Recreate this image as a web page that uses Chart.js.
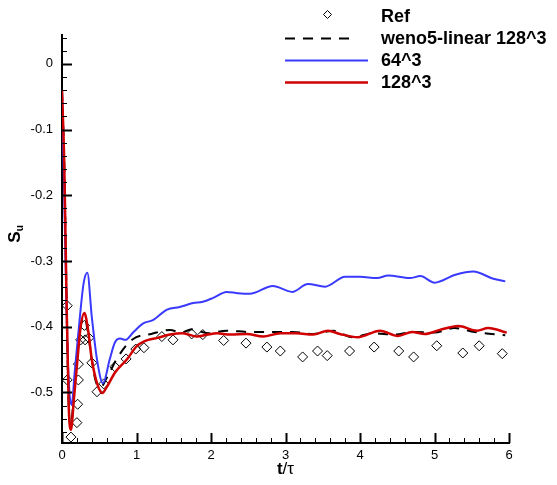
<!DOCTYPE html>
<html>
<head>
<meta charset="utf-8">
<script src="https://cdn.jsdelivr.net/npm/chart.js@4"></script>
<style>
  html, body { margin: 0; padding: 0; background: #fff; }
  canvas { display: block; }
</style>
</head>
<body>
<canvas id="su-chart" width="557" height="485"></canvas>
<script>
// reference data (diamonds)
const tRef = [0.07, 0.07, 0.12, 0.20, 0.21, 0.22, 0.22, 0.25, 0.30, 0.31, 0.36, 0.40, 0.47, 0.56, 0.71, 0.86, 0.99, 1.10,
    1.34, 1.49, 1.74, 1.89, 2.17, 2.47, 2.75, 2.93, 3.23, 3.43, 3.56, 3.86, 4.19, 4.52, 4.72, 5.03, 5.38, 5.60, 5.91];
const suRef = [-0.368, -0.481, -0.568, -0.546, -0.518, -0.481, -0.457, -0.420, -0.398, -0.420, -0.417, -0.455, -0.499, -0.487, -0.461, -0.449, -0.434, -0.432,
    -0.415, -0.420, -0.411, -0.412, -0.421, -0.425, -0.431, -0.437, -0.446, -0.437, -0.444, -0.437, -0.431, -0.437, -0.446, -0.429, -0.440, -0.429, -0.441];

// weno5-linear 128^3
const tWeno = [0, 0.03, 0.06, 0.09, 0.12, 0.16, 0.20, 0.25, 0.30, 0.35, 0.40, 0.45, 0.52, 0.60, 0.75, 0.95, 1.20, 1.45, 1.60, 1.74, 1.96,
    2.21, 2.52, 2.83, 3.10, 3.37, 3.64, 3.90, 4.17, 4.47, 4.71, 5.00, 5.27, 5.54, 5.84, 5.95];
const suWeno = [-0.04, -0.15, -0.35, -0.52, -0.55, -0.50, -0.45, -0.40, -0.385, -0.41, -0.45, -0.482, -0.492, -0.478, -0.446, -0.419, -0.411, -0.405, -0.409, -0.404, -0.410,
    -0.406, -0.408, -0.408, -0.408, -0.411, -0.406, -0.416, -0.410, -0.412, -0.408, -0.409, -0.402, -0.408, -0.412, -0.413];

// 64^3
const t64 = [0, 0.03, 0.07, 0.10, 0.13, 0.17, 0.24, 0.29, 0.34, 0.40, 0.47, 0.55, 0.64, 0.71, 0.78, 0.85, 0.96, 1.09, 1.22, 1.41, 1.58, 1.76, 1.89,
    2.03, 2.21, 2.36, 2.52, 2.83, 3.09, 3.30, 3.53, 3.80, 4.00, 4.23, 4.38, 4.67, 4.81, 5.00, 5.28, 5.52, 5.79, 5.95];
const su64 = [-0.04, -0.20, -0.42, -0.50, -0.519, -0.47, -0.385, -0.334, -0.318, -0.385, -0.45, -0.486, -0.45, -0.424, -0.418, -0.42, -0.408, -0.395, -0.39, -0.374, -0.37, -0.364, -0.362,
    -0.356, -0.347, -0.349, -0.35, -0.338, -0.347, -0.335, -0.339, -0.324, -0.324, -0.326, -0.322, -0.326, -0.323, -0.333, -0.321, -0.316, -0.327, -0.331];

// 128^3
const t128 = [0, 0.03, 0.06, 0.09, 0.12, 0.16, 0.20, 0.25, 0.30, 0.35, 0.40, 0.47, 0.54, 0.60, 0.71, 0.87, 1.00, 1.11, 1.28, 1.45, 1.62, 1.81, 1.95,
    2.08, 2.26, 2.48, 2.70, 2.93, 3.15, 3.37, 3.57, 3.73, 3.97, 4.27, 4.51, 4.70, 4.87, 5.07, 5.32, 5.57, 5.72, 5.97];
const su128 = [-0.04, -0.15, -0.35, -0.52, -0.557, -0.51, -0.46, -0.40, -0.379, -0.405, -0.45, -0.486, -0.501, -0.492, -0.47, -0.45, -0.43, -0.422, -0.417, -0.412, -0.41, -0.415, -0.412,
    -0.41, -0.412, -0.411, -0.415, -0.41, -0.41, -0.412, -0.406, -0.411, -0.416, -0.406, -0.414, -0.408, -0.411, -0.405, -0.399, -0.406, -0.402, -0.409];

const xTicks = [0, 1, 2, 3, 4, 5, 6];
const yTicks = [0, -0.1, -0.2, -0.3, -0.4, -0.5];

const BLUE = '#3a3aff';
const RED = '#d00000';

const toPoints = (t, s) => t.map((x, i) => ({ x: x, y: s[i] }));

// inward tick marks, axis titles and the legend box
const decor = {
    id: 'decor',
    afterDraw(chart) {
        const ctx = chart.ctx;
        const xs = chart.scales.x;
        const ys = chart.scales.y;
        const area = chart.chartArea;
        ctx.save();
        ctx.strokeStyle = '#000';

        // x ticks
        for (let i = 0; i <= 30; i++) {
            const v = i * 0.2;
            const px = Math.round(xs.getPixelForValue(v)) + 0.5;
            const major = i % 5 === 0;
            ctx.lineWidth = major ? 2 : 1;
            ctx.beginPath();
            ctx.moveTo(px, area.bottom);
            ctx.lineTo(px, area.bottom - (major ? 10 : 5));
            ctx.stroke();
        }
        // y ticks
        for (let i = -28; i <= 2; i++) {
            const v = i * 0.02;
            const py = Math.round(ys.getPixelForValue(v)) + 0.5;
            const major = i % 5 === 0;
            ctx.lineWidth = major ? 2 : 1;
            ctx.beginPath();
            ctx.moveTo(area.left, py);
            ctx.lineTo(area.left + (major ? 10 : 5), py);
            ctx.stroke();
        }

        // x title: t/τ
        ctx.fillStyle = '#000';
        ctx.textBaseline = 'alphabetic';
        ctx.textAlign = 'left';
        const cx = (area.left + area.right) / 2;
        ctx.font = 'bold 17px "Liberation Sans", Arial, sans-serif';
        const wt = ctx.measureText('t').width;
        ctx.font = '17px "Liberation Sans", Arial, sans-serif';
        const wr = ctx.measureText('/τ').width;
        let x0 = cx - (wt + wr) / 2;
        ctx.font = 'bold 17px "Liberation Sans", Arial, sans-serif';
        ctx.fillText('t', x0, 474);
        ctx.font = '17px "Liberation Sans", Arial, sans-serif';
        ctx.fillText('/τ', x0 + wt, 474);

        // y title: S_u
        ctx.save();
        ctx.translate(20, 234);
        ctx.rotate(-Math.PI / 2);
        ctx.font = 'bold 17px "Liberation Sans", Arial, sans-serif';
        const ws = ctx.measureText('S').width;
        ctx.fillText('S', -ws / 2 - 3, 0);
        ctx.font = 'bold 10px "Liberation Sans", Arial, sans-serif';
        ctx.fillText('u', ws / 2 - 3, 3);
        ctx.restore();

        // legend
        const rows = [16, 38, 60, 82];
        ctx.font = 'bold 18px "Liberation Sans", Arial, sans-serif';
        ctx.textBaseline = 'middle';
        chart.data.datasets.forEach((ds, i) => {
            const y = rows[i];
            if (ds.showLine === false) {
                ctx.fillStyle = 'rgba(0,0,0,0)';
                ctx.strokeStyle = ds.borderColor;
                ctx.lineWidth = 1;
                Chart.helpers.drawPoint(ctx, {
                    pointStyle: 'rectRot', radius: 4, borderWidth: 1
                }, 327.5, y - 1.5);
            } else {
                const dashed = !!ds.borderDash;
                ctx.strokeStyle = ds.borderColor;
                ctx.lineWidth = ds.borderWidth;
                ctx.setLineDash(ds.borderDash || []);
                ctx.beginPath();
                ctx.moveTo(285, y + 0.5);
                ctx.lineTo(dashed ? 350 : 368, y + 0.5);
                ctx.stroke();
                ctx.setLineDash([]);
            }
            ctx.fillStyle = '#000';
            ctx.fillText(ds.label, 381, y + 1);
        });
        ctx.restore();
    }
};

const ctx = document.getElementById('su-chart').getContext('2d');
new Chart(ctx, {
    type: 'scatter',
    data: {
        datasets: [
            {
                label: 'Ref',
                data: toPoints(tRef, suRef),
                showLine: false,
                pointStyle: 'rectRot',
                pointRadius: 5,
                borderColor: '#000',
                backgroundColor: 'rgba(0,0,0,0)',
                borderWidth: 1,
                order: 4
            },
            {
                label: 'weno5-linear 128^3',
                data: toPoints(tWeno, suWeno),
                showLine: true,
                borderColor: '#000',
                borderWidth: 2,
                borderDash: [10, 8],
                pointRadius: 0,
                cubicInterpolationMode: 'monotone',
                order: 3
            },
            {
                label: '64^3',
                data: toPoints(t64, su64),
                showLine: true,
                borderColor: BLUE,
                borderWidth: 2,
                pointRadius: 0,
                cubicInterpolationMode: 'monotone',
                order: 2
            },
            {
                label: '128^3',
                data: toPoints(t128, su128),
                showLine: true,
                borderColor: RED,
                borderWidth: 2.5,
                pointRadius: 0,
                cubicInterpolationMode: 'monotone',
                order: 1
            }
        ]
    },
    options: {
        responsive: false,
        animation: false,
        devicePixelRatio: 1,
        layout: { padding: { left: 12, top: 35, right: 48, bottom: 0 } },
        plugins: {
            legend: { display: false },
            tooltip: { enabled: false }
        },
        scales: {
            x: {
                type: 'linear',
                min: 0,
                max: 6,
                afterBuildTicks: (s) => { s.ticks = xTicks.map(v => ({ value: v })); },
                afterFit: (s) => { s.height = 42; },
                grid: { display: false, drawTicks: false },
                border: { display: true, color: '#000', width: 2 },
                ticks: {
                    padding: 5,
                    color: '#000',
                    maxRotation: 0,
                    font: { family: '"Liberation Sans", Arial, sans-serif', size: 13 }
                }
            },
            y: {
                type: 'linear',
                min: -0.577,
                max: 0.044,
                afterBuildTicks: (s) => { s.ticks = yTicks.map(v => ({ value: v })); },
                afterFit: (s) => { s.width = 50; },
                grid: { display: false, drawTicks: false },
                border: { display: true, color: '#000', width: 2 },
                ticks: {
                    padding: 9,
                    color: '#000',
                    font: { family: '"Liberation Sans", Arial, sans-serif', size: 13 },
                    callback: (v) => (v === 0 ? '0' : v.toFixed(1))
                }
            }
        }
    },
    plugins: [decor]
});
</script>
</body>
</html>
